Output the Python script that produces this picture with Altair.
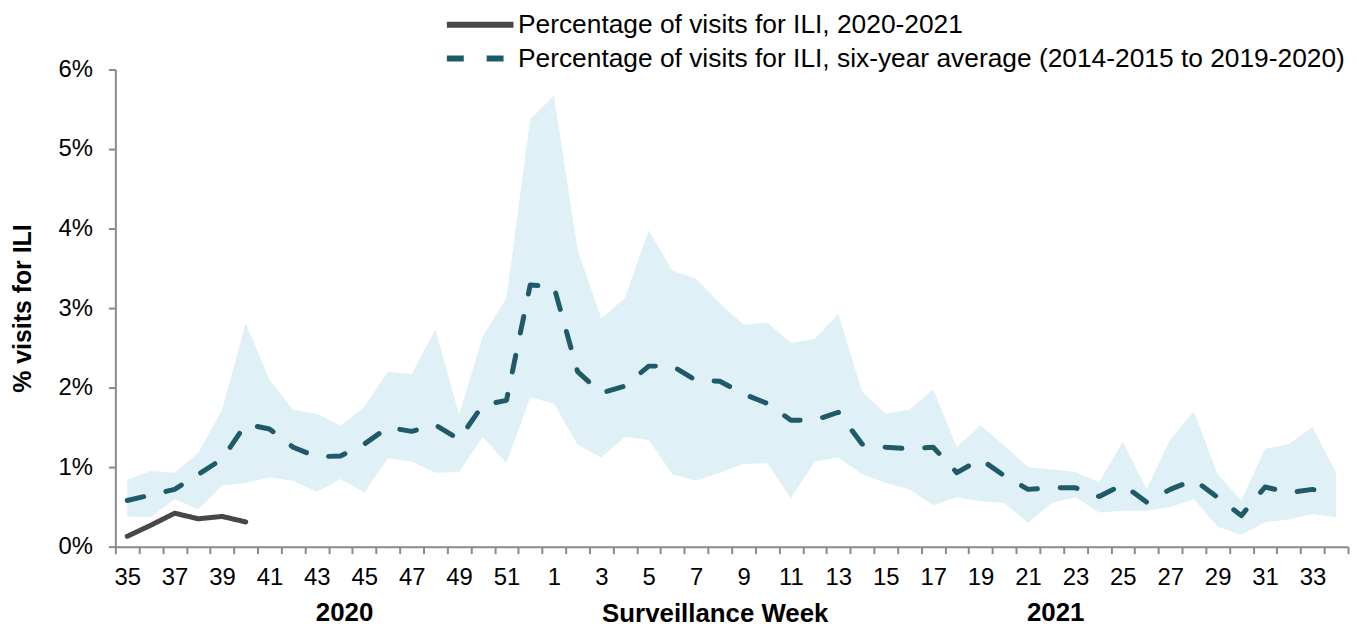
import altair as alt
import pandas as pd

weeks = list(range(35, 53)) + list(range(1, 35))
week_labels = [str(w) for w in weeks]

current = [0.13, 0.27, 0.42, 0.35, 0.38, 0.31]

average = [0.58, 0.65, 0.72, 0.91, 1.10, 1.54, 1.48, 1.25, 1.13, 1.14, 1.29, 1.50,
           1.45, 1.53, 1.35, 1.78, 1.84, 3.29,
           3.27, 2.20, 1.93, 2.02, 2.27, 2.27, 2.09, 2.08, 1.92, 1.80, 1.59, 1.59,
           1.69, 1.29, 1.25, 1.23, 1.25, 0.93, 1.10, 0.89, 0.72, 0.74, 0.74, 0.63,
           0.78, 0.56, 0.72, 0.84, 0.62, 0.39, 0.75, 0.68, 0.72, 0.66]

upper = [0.84, 0.95, 0.93, 1.18, 1.72, 2.81, 2.10, 1.72, 1.67, 1.52, 1.76, 2.20,
         2.17, 2.73, 1.66, 2.64, 3.13, 5.37,
         5.67, 3.73, 2.87, 3.13, 3.98, 3.47, 3.37, 3.06, 2.79, 2.82, 2.56, 2.61,
         2.93, 1.95, 1.67, 1.72, 1.98, 1.25, 1.53, 1.27, 1.00, 0.97, 0.94, 0.81,
         1.32, 0.72, 1.35, 1.70, 0.91, 0.58, 1.23, 1.29, 1.50, 0.93]

lower = [0.38, 0.37, 0.60, 0.47, 0.77, 0.80, 0.87, 0.83, 0.69, 0.85, 0.68, 1.11,
         1.07, 0.93, 0.94, 1.38, 1.05, 1.88,
         1.80, 1.28, 1.12, 1.38, 1.34, 0.91, 0.83, 0.93, 1.04, 1.05, 0.61, 1.07,
         1.12, 0.91, 0.80, 0.72, 0.52, 0.62, 0.57, 0.55, 0.30, 0.55, 0.62, 0.43,
         0.45, 0.45, 0.50, 0.60, 0.25, 0.15, 0.31, 0.34, 0.41, 0.37]

y_ticks = [0, 1, 2, 3, 4, 5, 6]
year_weeks = ["44", "22"]
year_texts = ["2020", "2021"]

S1 = "Percentage of visits for ILI, 2020-2021"
S2 = "Percentage of visits for ILI, six-year average (2014-2015 to 2019-2020)"

FONT = "Liberation Sans"
AXIS_GRAY = "#8a8a8a"

band_df = pd.DataFrame({"week": week_labels, "lower": lower, "upper": upper})
rows = [{"week": w, "value": v, "series": S1} for w, v in zip(week_labels, current)]
rows += [{"week": w, "value": v, "series": S2} for w, v in zip(week_labels, average)]
line_df = pd.DataFrame(rows)
year_df = pd.DataFrame({"week": year_weeks, "label": year_texts})

x_axis = alt.Axis(
    tickBand="extent",
    labelExpr="parseInt(datum.value) % 2 == 1 ? datum.value : ''",
    labelOverlap=False,
    labelAngle=0,
    labelFontSize=24,
    labelFont=FONT,
    labelColor="black",
    labelPadding=12,
    tickSize=7,
    tickWidth=2,
    tickColor=AXIS_GRAY,
    domainColor=AXIS_GRAY,
    domainWidth=2,
    grid=False,
    title="Surveillance  Week",
    titleFont=FONT,
    titleFontSize=26,
    titleFontWeight="bold",
    titleColor="black",
    titleX=603,
    titleY=75,
    titleBaseline="alphabetic",
    titleAlign="center",
)

y_axis = alt.Axis(
    values=y_ticks,
    labelExpr="datum.value + '%'",
    labelFontSize=24,
    labelFont=FONT,
    labelColor="black",
    labelPadding=16,
    tickSize=7,
    tickWidth=2,
    tickColor=AXIS_GRAY,
    domainColor=AXIS_GRAY,
    domainWidth=2,
    grid=False,
    title="% visits for ILI",
    titleFont=FONT,
    titleFontSize=25,
    titleFontWeight="bold",
    titleColor="black",
    titleX=-93,
    titleY=240,
    titleBaseline="middle",
    titleAlign="center",
    titleAngle=270,
)

x_enc = alt.X("week:N", sort=week_labels,
              scale=alt.Scale(type="band", paddingInner=0, paddingOuter=0),
              axis=x_axis)
y_scale = alt.Scale(domain=[0, 6], nice=False)

legend = alt.Legend(
    title=None,
    orient="none",
    legendX=347,
    legendY=-65,
    symbolType="M-2,0H2",
    symbolSize=1122,
    symbolStrokeWidth=6,
    labelFontSize=26.5,
    labelFont=FONT,
    labelColor="black",
    labelLimit=0,
    labelOffset=18,
    rowPadding=0,
    padding=0,
)

band = alt.Chart(band_df).mark_area(color="#dff0f6", opacity=1).encode(
    x=x_enc,
    y=alt.Y("lower:Q", scale=y_scale, axis=y_axis),
    y2="upper:Q",
)

lines = alt.Chart(line_df).mark_line(strokeWidth=5, strokeCap="round", strokeJoin="round").encode(
    x=x_enc,
    y=alt.Y("value:Q", scale=y_scale, axis=y_axis),
    color=alt.Color("series:N",
                    scale=alt.Scale(domain=[S1, S2], range=["#474747", "#1e5a68"]),
                    legend=legend),
    strokeDash=alt.StrokeDash("series:N",
                              scale=alt.Scale(domain=[S1, S2], range=[[1, 0], [17, 23]]),
                              legend=legend),
)

years = alt.Chart(year_df).mark_text(
    font=FONT, fontSize=26, fontWeight="bold", color="black",
    baseline="alphabetic", align="center", dx=4,
).encode(
    x=x_enc,
    y=alt.value(555),
    text="label:N",
)

chart = alt.layer(band, lines, years).properties(
    width=1240,
    height=480,
    autosize=alt.AutoSizeParams(type="none"),
    padding={"left": 108, "top": 60, "right": 3, "bottom": 82},
    background="white",
).configure_view(stroke=None)

chart.save("out.html", embed_options={"renderer": "svg", "actions": False})
